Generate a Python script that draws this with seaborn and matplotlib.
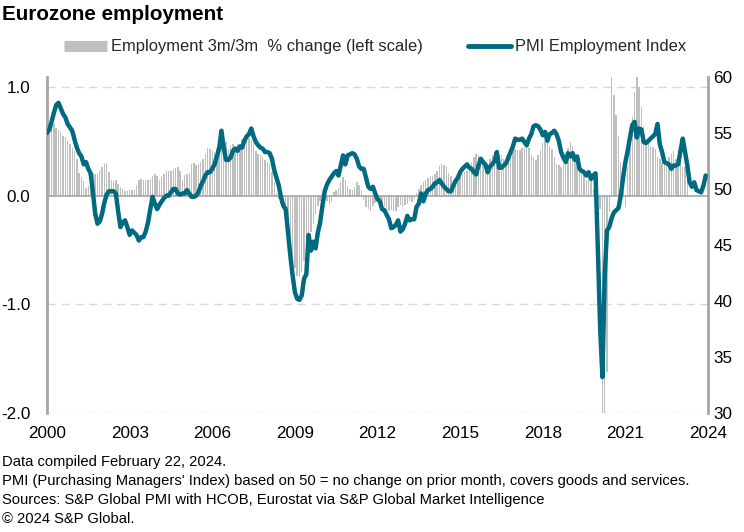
import numpy as np
import pandas as pd
import matplotlib
matplotlib.use("Agg")
import matplotlib.pyplot as plt
from matplotlib.lines import Line2D
import seaborn as sns

# ---------------- data ----------------
start_year = 2000
# PMI Employment Index, monthly from Jan 2000
pmi = [
    55.0, 55.3, 56.0, 56.8, 57.5, 57.7, 57.2, 56.7, 56.4, 55.8, 55.5, 55.2,
    54.4, 53.7, 53.2, 52.9, 52.2, 52.4, 51.8, 51.4, 49.7, 47.8, 46.9, 47.1,
    47.8, 48.8, 49.5, 49.8, 49.8, 49.8, 49.6, 48.0, 46.6, 47.0, 47.2, 46.6,
    45.9, 46.3, 46.1, 45.9, 45.4, 45.7, 45.7, 46.2, 47.0, 48.2, 49.3, 48.7,
    48.2, 48.6, 48.9, 49.2, 49.4, 49.4, 49.7, 50.0, 50.0, 49.6, 49.5, 49.6,
    49.6, 49.9, 49.6, 49.3, 49.3, 49.4, 49.7, 50.3, 50.7, 51.2, 51.5, 51.5,
    51.8, 52.2, 52.9, 53.6, 55.2, 53.7, 52.6, 52.6, 52.8, 53.4, 53.6, 53.4,
    53.8, 53.7, 54.3, 54.7, 54.9, 55.4, 54.7, 54.2, 53.9, 53.7, 53.6, 53.3,
    53.3, 53.2, 52.7, 51.7, 51.0, 50.3, 49.2, 48.5, 48.2, 46.1, 44.1, 42.3,
    40.8, 40.2, 40.1, 40.5, 42.0, 42.4, 45.9, 44.5, 45.3, 44.7, 46.1, 47.0,
    48.5, 49.8, 50.4, 50.8, 51.1, 51.4, 51.6, 51.2, 52.1, 53.0, 52.2, 53.0,
    53.1, 53.2, 53.1, 52.7, 52.0, 51.8, 51.8, 51.0, 50.2, 50.0, 50.2, 49.6,
    49.1, 48.9, 48.2, 48.1, 47.7, 47.3, 46.5, 46.6, 46.8, 47.2, 46.2, 46.4,
    46.9, 47.6, 47.2, 47.3, 47.3, 48.4, 48.7, 49.6, 48.9, 49.6, 49.9, 50.0,
    50.2, 50.5, 50.6, 50.8, 50.5, 50.2, 50.0, 49.8, 49.8, 50.3, 50.7, 51.0,
    51.5, 51.8, 52.0, 52.2, 51.9, 51.8, 51.5, 51.3, 52.1, 52.7, 52.4, 52.2,
    51.5, 52.0, 52.2, 52.5, 53.3, 51.9, 51.9, 52.1, 52.3, 52.8, 53.3, 53.8,
    54.5, 54.4, 54.4, 54.5, 54.2, 53.9, 54.5, 54.9, 55.6, 55.7, 55.6, 55.3,
    54.8, 55.1, 54.3, 54.9, 55.0, 55.2, 54.9, 54.3, 53.3, 52.8, 52.4, 53.2,
    52.9, 53.2, 52.6, 52.9, 51.8, 51.6, 51.5, 51.2, 51.5, 50.9, 51.2, 51.4,
    44.7, 37.6, 33.2, 42.3, 46.3, 46.6, 47.4, 47.9, 48.1, 48.3, 49.4, 51.0,
    52.4, 53.4, 54.6, 55.7, 56.0, 54.6, 55.4, 55.3, 54.2, 54.1, 54.3, 54.5,
    54.7, 54.9, 55.8, 54.0, 53.3, 52.4, 52.3, 52.2, 51.8, 52.1, 52.1, 52.2,
    53.4, 54.5, 53.3, 52.1, 50.6, 50.2, 50.6, 49.9, 49.8, 49.7, 50.3, 51.2,
]
# Employment 3m/3m % change, monthly from Jan 2000
emp = [
    0.55, 0.57, 0.65, 0.66, 0.62, 0.60, 0.58, 0.55, 0.54, 0.50, 0.47, 0.44,
    0.41, 0.34, 0.21, 0.17, 0.13, 0.07, 0.09, 0.20, 0.21, 0.20, 0.20, 0.23,
    0.26, 0.29, 0.30, 0.22, 0.14, 0.13, 0.14, 0.11, 0.08, 0.06, 0.04, 0.04,
    0.05, 0.05, 0.06, 0.10, 0.14, 0.15, 0.14, 0.14, 0.14, 0.15, 0.18, 0.20,
    0.18, 0.14, 0.17, 0.20, 0.23, 0.23, 0.23, 0.24, 0.25, 0.26, 0.23, 0.14,
    0.19, 0.20, 0.21, 0.29, 0.30, 0.28, 0.29, 0.31, 0.34, 0.38, 0.44, 0.43,
    0.41, 0.40, 0.44, 0.46, 0.46, 0.48, 0.49, 0.43, 0.46, 0.47, 0.46, 0.47,
    0.44, 0.52, 0.52, 0.54, 0.53, 0.51, 0.48, 0.41, 0.38, 0.37, 0.35, 0.33,
    0.31, 0.29, 0.22, 0.12, 0.02, -0.03, -0.08, -0.11, -0.22, -0.30, -0.42, -0.56,
    -0.67, -0.74, -0.75, -0.70, -0.60, -0.52, -0.42, -0.34, -0.26, -0.17, -0.10, -0.05,
    -0.02, -0.02, -0.05, -0.08, -0.05, 0.03, 0.05, 0.07, 0.12, 0.17, 0.14, 0.09,
    0.06, 0.05, 0.08, 0.12, 0.10, 0.04, -0.04, -0.11, -0.12, -0.14, -0.10, -0.07,
    -0.05, -0.06, -0.09, -0.11, -0.12, -0.14, -0.13, -0.14, -0.14, -0.11, -0.09, -0.11,
    -0.09, -0.08, -0.05, -0.06, -0.03, 0.02, 0.06, 0.10, 0.12, 0.14, 0.16, 0.18,
    0.18, 0.20, 0.23, 0.27, 0.29, 0.28, 0.26, 0.21, 0.18, 0.14, 0.11, 0.13,
    0.17, 0.20, 0.22, 0.23, 0.26, 0.30, 0.35, 0.38, 0.37, 0.34, 0.30, 0.28,
    0.29, 0.34, 0.37, 0.40, 0.38, 0.37, 0.37, 0.34, 0.32, 0.35, 0.38, 0.42,
    0.43, 0.42, 0.42, 0.44, 0.44, 0.48, 0.44, 0.37, 0.35, 0.33, 0.37, 0.42,
    0.48, 0.51, 0.52, 0.46, 0.43, 0.35, 0.29, 0.28, 0.26, 0.29, 0.38, 0.44,
    0.49, 0.46, 0.38, 0.29, 0.25, 0.20, 0.19, 0.14, 0.14, 0.14, 0.06, 0.04,
    -0.05, -0.12, -2.90, -2.90, -1.62, -0.15, 1.20, 0.92, 0.74, 0.55, 0.31, 0.11,
    -0.11, 0.26, 0.46, 0.72, 0.95, 1.15, 1.00, 0.81, 0.64, 0.51, 0.48, 0.46,
    0.45, 0.43, 0.35, 0.34, 0.30, 0.30, 0.31, 0.35, 0.38, 0.41, 0.34, 0.26,
    0.38, 0.26, 0.26, 0.14,
]
year_labels = ["2000", "2003", "2006", "2009", "2012", "2015", "2018", "2021", "2024"]
left_ticks = [-2.0, -1.0, 0.0, 1.0]
left_ticklabels = ["-2.0", "-1.0", "0.0", "1.0"]
right_ticks = [30, 35, 40, 45, 50, 55, 60]
right_ticklabels = ["30", "35", "40", "45", "50", "55", "60"]

title = "Eurozone employment"
bar_label = "Employment 3m/3m  % change (left scale)"
line_label = "PMI Employment Index"
notes = [
    "Data compiled February 22, 2024.",
    "PMI (Purchasing Managers' Index) based on 50 = no change on prior month, covers goods and services.",
    "Sources: S&P Global PMI with HCOB, Eurostat via S&P Global Market Intelligence",
    "\u00a9 2024 S&P Global.",
]

# ---------------- style ----------------
sns.set_theme(style="white")
plt.rcParams["font.family"] = ["Liberation Sans", "DejaVu Sans"]
plt.rcParams["axes.unicode_minus"] = False

BAR = "#BFBFBF"
LINE = "#006A80"
AXIS = "#A6A6A6"
GRID = "#D9D9D9"
TXT = "#000000"

W, H = 744, 532
fig = plt.figure(figsize=(W / 100, H / 100), dpi=100)
ax = fig.add_axes([47 / W, 1 - 413 / H, (708 - 47) / W, (413 - 77) / H])

df_emp = pd.DataFrame({"m": np.arange(len(emp)), "v": emp})
df_pmi = pd.DataFrame({"m": np.arange(len(pmi)), "v": pmi})

# grid lines (left scale)
for t in left_ticks:
    if t != 0:
        ax.axhline(t, color=GRID, lw=1.0, ls=(0, (6, 4)), zorder=0)

sns.barplot(data=df_emp, x="m", y="v", native_scale=True, color=BAR,
            width=0.62, saturation=1, ax=ax, zorder=2, edgecolor="none")
ax.axhline(0, color=AXIS, lw=1.2, zorder=3)

ax.set_xlim(0, 288)
ax.set_ylim(-2.0, 1.09)
ax.set_yticks(left_ticks)
ax.set_yticklabels(left_ticklabels)
ax.set_xticks(np.arange(0, 289, 36))
ax.set_xticklabels(year_labels)
ax.set_xlabel("")
ax.set_ylabel("")
for s in ["top", "bottom", "right"]:
    ax.spines[s].set_visible(False)
ax.spines["left"].set_color(AXIS)
ax.spines["left"].set_linewidth(2.0)
ax.tick_params(axis="y", length=0, pad=12, labelsize=12.3, colors=TXT)
ax.tick_params(axis="x", length=0, pad=9, labelsize=12.3, colors=TXT)

ax2 = ax.twinx()
sns.lineplot(data=df_pmi, x="m", y="v", ax=ax2, color=LINE, lw=3.2, zorder=5)
ax2.set_xlim(0, 288)
ax2.set_ylim(30, 60)
ax2.set_yticks(right_ticks)
ax2.set_yticklabels(right_ticklabels)
ax2.set_ylabel("")
ax2.set_xlabel("")
for s in ["top", "bottom", "left"]:
    ax2.spines[s].set_visible(False)
ax2.spines["right"].set_color(AXIS)
ax2.spines["right"].set_linewidth(2.0)
ax2.tick_params(axis="y", length=0, pad=4, labelsize=12.3, colors=TXT)
ax2.patch.set_visible(False)

# title
fig.text(2 / W, 1 - 15 / H, title, fontsize=14.9, fontweight="bold",
         ha="left", va="center", color=TXT)

# legend
handles = [
    Line2D([0], [0], color=BAR, lw=8, solid_capstyle="butt"),
    Line2D([0], [0], color=LINE, lw=3.5),
]
fig.legend(handles, [bar_label, line_label], loc="center",
           bbox_to_anchor=(375 / W, 1 - 47 / H), ncol=2, frameon=False,
           fontsize=11.9, handlelength=2.6, handletextpad=0.25,
           columnspacing=2.7)

# notes
for i, t in enumerate(notes):
    fig.text(2 / W, 1 - (462 + 19 * i) / H, t, fontsize=10.6, ha="left",
             va="center", color=TXT)

fig.savefig("out.png", dpi=100)
